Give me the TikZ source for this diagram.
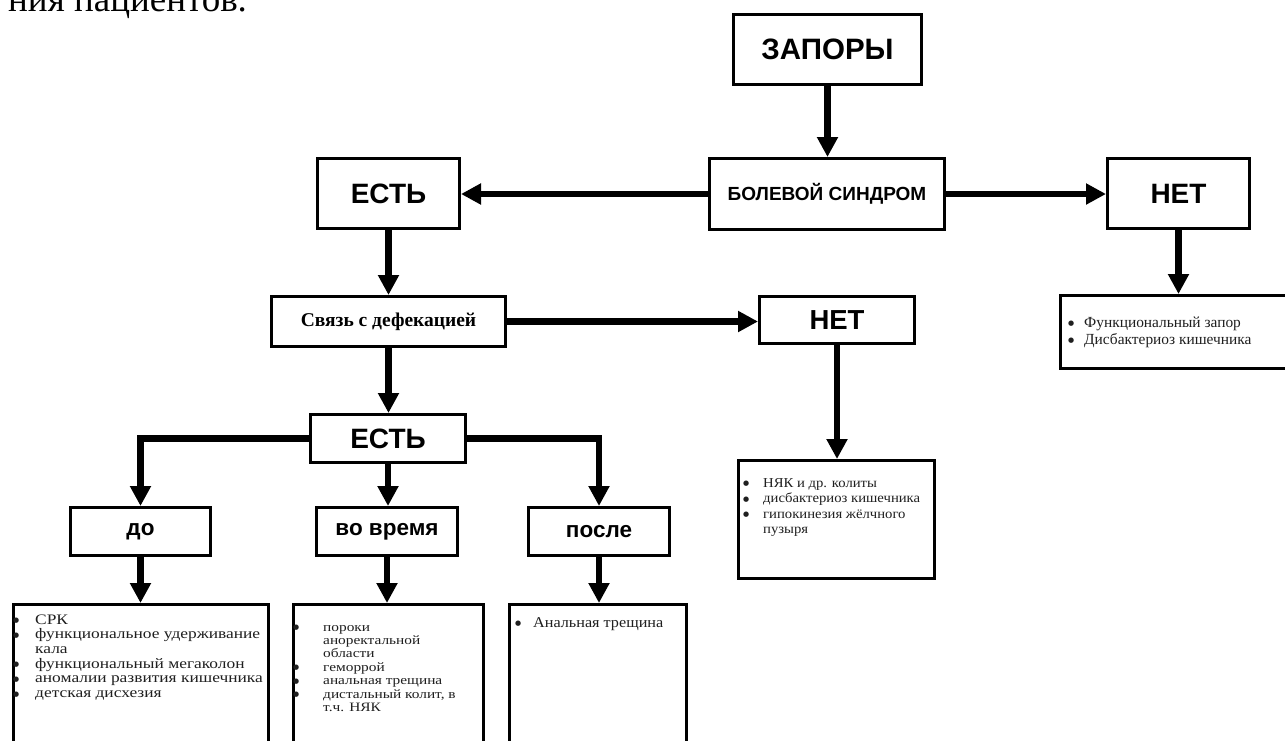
\documentclass[tikz,border=0pt]{standalone}
\usepackage{fontspec}
\setmainfont{Liberation Serif}
\newfontfamily\hv{Liberation Sans}
\newfontfamily\dvs{DejaVu Sans}
\newfontfamily\lsA[FakeStretch=1.2]{Liberation Serif}
\newfontfamily\lsB[FakeStretch=1.08]{Liberation Serif}
\usetikzlibrary{arrows.meta}
\newcommand{\fs}[2]{\fontsize{#1}{#2}\selectfont}
\newcommand{\bul}{\raisebox{1.5pt}{\dvs\fontsize{7}{7}\selectfont ●}}
\begin{document}
\begin{tikzpicture}[x=1pt,y=-1pt,
  box/.style={draw, fill=white, line width=3pt, inner sep=0pt, anchor=north west, align=center},
  sans/.style={font=\hv\bfseries},
  arr/.style={line width=6.8pt, -{Triangle[length=20pt,width=20pt]}},
  listtext/.style={anchor=base west, inner sep=0pt, text=black!88}
]
\clip (0,0) rectangle (1285,740);
\fill[white] (0,0) rectangle (1285,740);

% cut-off text at the top
\node[anchor=base west, inner sep=0pt, font=\fs{37}{40}] (toptext) at (8,11) {ния пациентов.};

% boxes
\node[box, sans, minimum width=188pt, minimum height=70pt] (zap) at (732,13) {\fs{29.5}{32}ЗАПОРЫ};
\node[box, sans, minimum width=235pt, minimum height=71pt] (bs) at (708,157) {\fs{19}{22}БОЛЕВОЙ СИНДРОМ};
\node[box, sans, minimum width=142pt, minimum height=70pt] (est1) at (316,157) {\fs{28}{30}ЕСТЬ};
\node[box, sans, minimum width=142pt, minimum height=70pt] (net1) at (1106,157) {\fs{28}{30}НЕТ};
\node[box, minimum width=236pt, minimum height=73pt] (lnet1) at (1059,294) {};
\node[box, minimum width=234pt, minimum height=50pt, font=\bfseries] (svz) at (270,295) {\fs{19.5}{22}Связь с дефекацией};
\node[box, sans, minimum width=155pt, minimum height=47pt] (net2) at (758,295) {\fs{27.5}{30}НЕТ};
\node[box, minimum width=196pt, minimum height=118pt] (nyak) at (737,459) {};
\node[box, sans, minimum width=155pt, minimum height=48pt] (est2) at (309,413) {\fs{28}{30}ЕСТЬ};
\node[box, sans, minimum width=140pt, minimum height=48pt] (do) at (69,506) {\fs{22.5}{25}до};
\node[box, sans, minimum width=141pt, minimum height=48pt] (vo) at (315,506) {\fs{22.5}{25}во время};
\node[box, sans, minimum width=141pt, minimum height=48pt] (po) at (527,506) {\fs{22.5}{25}после};
\node[box, minimum width=255pt, minimum height=160pt] (ldo) at (12,603) {};
\node[box, minimum width=190pt, minimum height=160pt] (lvo) at (292,603) {};
\node[box, minimum width=177pt, minimum height=160pt] (lpo) at (508,603) {};

% list texts
\node[listtext] (tnet1) at (1068,327) {\fs{15.4}{17}%
  \begin{tabular}[t]{@{}p{16pt}@{}l@{}}
  \bul & Функциональный запор\\
  \bul & Дисбактериоз кишечника
  \end{tabular}};
\node[listtext] (tnyak) at (743,487) {\lsB\fs{13.6}{15.6}%
  \begin{tabular}[t]{@{}p{20pt}@{}l@{}}
  \bul & НЯК и др. колиты\\
  \bul & дисбактериоз кишечника\\
  \bul & гипокинезия жёлчного\\
   & пузыря
  \end{tabular}};
\node[listtext] (tdo) at (13,624) {\lsA\fs{14.5}{14.7}%
  \begin{tabular}[t]{@{}p{22pt}@{}l@{}}
  \bul & СРК\\
  \bul & функциональное удерживание\\
   & кала\\
  \bul & функциональный мегаколон\\
  \bul & аномалии развития кишечника\\
  \bul & детская дисхезия
  \end{tabular}};
\node[listtext] (tvo) at (293,631) {\lsA\fs{12.8}{13.4}%
  \begin{tabular}[t]{@{}p{30pt}@{}l@{}}
  \bul & пороки\\
   & аноректальной\\
   & области\\
  \bul & геморрой\\
  \bul & анальная трещина\\
  \bul & дистальный колит, в\\
   & т.ч. НЯК
  \end{tabular}};
\node[listtext] (tpo) at (515,627) {\lsB\fs{15}{17}%
  \begin{tabular}[t]{@{}p{18pt}@{}l@{}}
  \bul & Анальная трещина
  \end{tabular}};

% connectors
\draw[arr] (zap.south) -- (zap.south |- bs.north);
\draw[arr] (bs.west) -- (bs.west -| est1.east);
\draw[arr] (bs.east) -- (bs.east -| net1.west);
\draw[arr] (net1.south) -- (net1.south |- lnet1.north);
\draw[arr] (est1.south) -- (est1.south |- svz.north);
\draw[arr] (svz.east) -- (svz.east -| net2.west);
\draw[arr] (net2.south) -- (net2.south |- nyak.north);
\draw[arr] (svz.south) -- (svz.south |- est2.north);
\draw[arr] (est2.west) -| (do.north);
\draw[arr] (est2.east) -| (po.north);
\draw[arr] (est2.south) -- (est2.south |- vo.north);
\draw[arr] (do.south) -- (do.south |- ldo.north);
\draw[arr] (vo.south) -- (vo.south |- lvo.north);
\draw[arr] (po.south) -- (po.south |- lpo.north);
\end{tikzpicture}
\end{document}
